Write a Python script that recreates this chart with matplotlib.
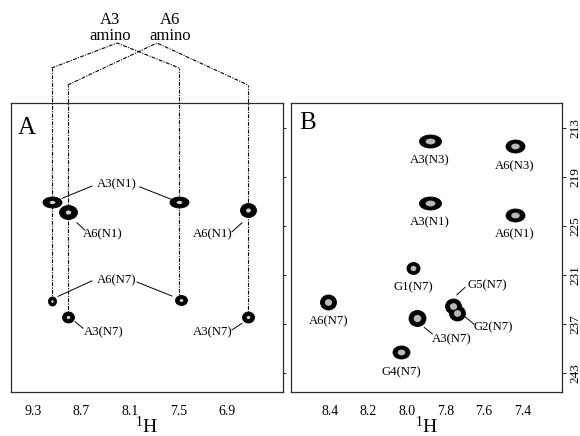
import matplotlib
matplotlib.use("Agg")
import matplotlib.pyplot as plt
from matplotlib.path import Path
from matplotlib.transforms import Affine2D

plt.rcParams['font.family'] = ['Liberation Serif', 'DejaVu Serif']
plt.rcParams['mathtext.fontset'] = 'custom'
plt.rcParams['mathtext.rm'] = 'Liberation Serif'
plt.rcParams['mathtext.it'] = 'Liberation Serif:italic'

# ---------------- data ----------------
# Panel A : 1H (ppm) and 15N (ppm) of the amino cross peaks
a_labels = ['A3(N1)', 'A3(N1)', 'A6(N1)', 'A6(N1)', 'A6(N7)', 'A6(N7)', 'A3(N7)', 'A3(N7)']
a_h = [9.07, 7.49, 8.87, 6.64, 9.07, 7.47, 8.87, 6.64]
a_n = [222.1, 222.1, 223.3, 223.0, 234.2, 234.0, 236.1, 236.1]
a_xticks = [9.3, 8.7, 8.1, 7.5, 6.9]

# amino proton columns (1H ppm) and the last peak each column reaches (15N ppm)
a3_amino_h = [9.07, 7.49]
a3_amino_end = [234.2, 234.0]
a6_amino_h = [8.87, 6.64]
a6_amino_end = [236.1, 236.1]

# Panel B
b_labels = ['A3(N3)', 'A6(N3)', 'A3(N1)', 'A6(N1)', 'G1(N7)', 'A6(N7)',
            'G5(N7)', 'G2(N7)', 'A3(N7)', 'G4(N7)']
b_h = [7.88, 7.44, 7.88, 7.44, 7.97, 8.41, 7.762, 7.738, 7.95, 8.03]
b_n = [214.6, 215.2, 222.2, 223.6, 230.1, 234.3, 234.8, 235.6, 236.3, 240.4]
b_xticks = [8.4, 8.2, 8.0, 7.8, 7.6, 7.4]
yticks = [213, 219, 225, 231, 237, 243]

# ---------------- styles / sizes ----------------
a_w = [19, 19, 18, 16, 9, 12, 12, 12]     # peak sizes in px
a_hgt = [11, 11, 14, 14, 10, 10, 11, 11]
b_w = [22, 19, 22, 19, 13, 16, 16, 16, 17, 17]
b_hgt = [13, 13, 13, 13, 12, 15, 15, 15, 16, 13]

PX = 0.72  # points per pixel at dpi 100

fig = plt.figure(figsize=(5.8, 4.36), dpi=100)
axA = fig.add_axes([0.0184, 0.1009, 0.4695, 0.6629])
axB = fig.add_axes([0.5017, 0.1009, 0.4673, 0.6629])

circle = Path.unit_circle()


def peak(ax, x, y, w, h, inner='#b8b8b8', frac=0.45, z=5):
    asp = h / w
    m = circle.transformed(Affine2D().scale(1.0, asp))
    ax.plot([x], [y], marker=m, ms=w * PX, color='black', mec='black', mew=0.6, ls='none', zorder=z)
    ax.plot([x], [y], marker=m, ms=w * PX * frac, color=inner, mec=inner, mew=0, ls='none', zorder=z + 1)


for ax in (axA, axB):
    for s in ax.spines.values():
        s.set_linewidth(0.9)
        s.set_color('#2a2a2a')
    ax.set_ylim(245.3, 209.94)

axA.set_xlim(9.576, 6.207)
axB.set_xlim(8.604, 7.193)

# ----- panel A -----
for x, y, w, h in zip(a_h, a_n, a_w, a_hgt):
    peak(axA, x, y, w, h, inner='#d0d0d0', frac=0.3)

dash = (0, (3.5, 1.2, 1, 1.2))
lw = 0.8
top_a3, top_a6, apex_y = 205.66, 207.74, 202.6
apex_a3, apex_a6 = 8.26, 7.766
for xs, ends, top, apex in ((a3_amino_h, a3_amino_end, top_a3, apex_a3),
                            (a6_amino_h, a6_amino_end, top_a6, apex_a6)):
    for x, e in zip(xs, ends):
        axA.plot([x, x], [e, top], color='black', lw=lw, ls=dash, clip_on=False, zorder=3)
    axA.plot([xs[0], apex, xs[1]], [top, apex_y, top], color='black', lw=lw, ls=dash,
             clip_on=False, zorder=3)

axA.text(8.347, 202.75, 'A3\namino', ha='center', va='bottom', fontsize=12, linespacing=1.0)
axA.text(7.605, 202.75, 'A6\namino', ha='center', va='bottom', fontsize=12, linespacing=1.0)

lab_fs = 9.2
a_text = [('A3(N1)', 8.26, 219.85), ('A6(N1)', 8.434, 225.97), ('A6(N1)', 7.073, 225.97),
          ('A6(N7)', 8.26, 231.6), ('A3(N7)', 8.42, 237.97), ('A3(N7)', 7.073, 237.97)]
for t, x, y in a_text:
    axA.text(x, y, t, ha='center', va='center', fontsize=lab_fs)
a_leaders = [((8.57, 8.94), (220.1, 221.6)), ((7.98, 7.57), (220.2, 221.8)),
             ((8.756, 8.657), (224.6, 225.5)), ((6.838, 6.714), (225.7, 224.6)),
             ((8.57, 8.99), (231.7, 233.6)), ((8.013, 7.58), (231.85, 233.56)),
             ((8.78, 8.68), (236.7, 237.5)), ((6.838, 6.714), (237.7, 236.9))]
for xs, ys in a_leaders:
    axA.plot(xs, ys, color='black', lw=0.7)

axA.text(0.06, 0.915, 'A', transform=axA.transAxes, ha='center', va='center', fontsize=18)

axA.set_xticks(a_xticks)
axA.set_xticklabels([f'{v:.1f}' for v in a_xticks])
axA.set_yticks(yticks)
axA.tick_params(axis='y', left=False, labelleft=False, right=True, direction='out', length=2.5, width=0.6)
axA.tick_params(axis='x', length=0, labelsize=10, pad=9)
axA.set_xlabel(r'$^{1}\mathrm{H}$', fontsize=14, labelpad=-1)

# ----- panel B -----
# draw all black blobs first, then inner highlights, so overlapping peaks merge
for x, y, w, h in zip(b_h, b_n, b_w, b_hgt):
    asp = h / w
    m = circle.transformed(Affine2D().scale(1.0, asp))
    axB.plot([x], [y], marker=m, ms=w * PX, color='black', mec='black', mew=0.6, ls='none', zorder=5)
for x, y, w, h in zip(b_h, b_n, b_w, b_hgt):
    asp = h / w
    m = circle.transformed(Affine2D().scale(1.0, asp))
    axB.plot([x], [y], marker=m, ms=w * PX * 0.45, color='#b8b8b8', mec='#b8b8b8', mew=0,
             ls='none', zorder=6)

b_text = [('A3(N3)', 7.88, 216.9), ('A6(N3)', 7.4375, 217.65), ('A3(N1)', 7.88, 224.5),
          ('A6(N1)', 7.4375, 225.97), ('G1(N7)', 7.969, 232.46), ('A6(N7)', 8.41, 236.6),
          ('G5(N7)', 7.583, 232.2), ('G2(N7)', 7.552, 237.4), ('A3(N7)', 7.766, 238.8),
          ('G4(N7)', 8.031, 242.9)]
for t, x, y in b_text:
    axB.text(x, y, t, ha='center', va='center', fontsize=lab_fs)
b_leaders = [((7.74, 7.698), (233.4, 232.5)), ((7.698, 7.651), (236.1, 237.0)),
             ((7.91, 7.868), (237.4, 238.2))]
for xs, ys in b_leaders:
    axB.plot(xs, ys, color='black', lw=0.7)

axB.text(0.063, 0.93, 'B', transform=axB.transAxes, ha='center', va='center', fontsize=18)

axB.set_xticks(b_xticks)
axB.set_xticklabels([f'{v:.1f}' for v in b_xticks])
axB.set_yticks(yticks)
axB.set_yticklabels([str(v) for v in yticks])
axB.yaxis.tick_right()
axB.tick_params(axis='y', left=False, right=True, labelright=True, labelleft=False,
                direction='out', length=3, width=0.6, labelsize=9.5, pad=2, labelrotation=90)
for lbl in axB.get_yticklabels():
    lbl.set_va('center')
axB.tick_params(axis='x', length=0, labelsize=10, pad=9)
axB.set_xlabel(r'$^{1}\mathrm{H}$', fontsize=14, labelpad=-1)

fig.savefig('out.png', dpi=100)
